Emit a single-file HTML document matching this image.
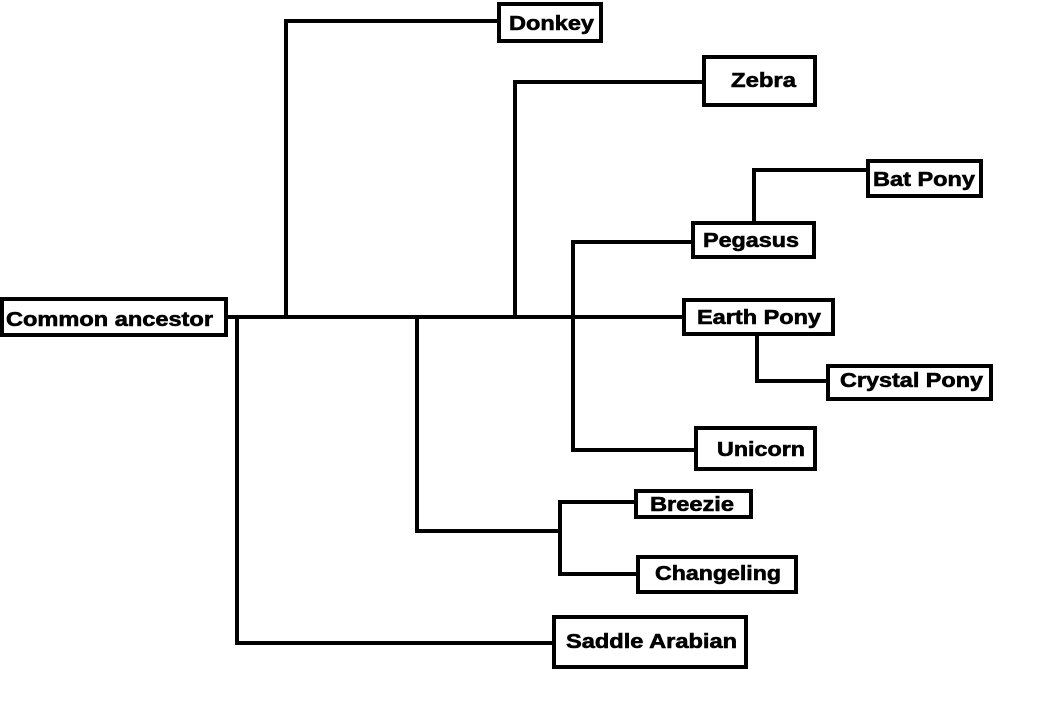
<!DOCTYPE html>
<html><head><meta charset="utf-8"><style>
html,body{margin:0;padding:0;background:#fff;}
svg{display:block;}
text{font-family:"Liberation Sans",Arial,sans-serif;font-weight:bold;font-size:20px;fill:#000;stroke:#000;stroke-width:0.6;}
</style></head><body>
<svg width="1045" height="720" viewBox="0 0 1045 720" xmlns="http://www.w3.org/2000/svg">
<g stroke="#000" stroke-width="4" fill="none" stroke-linecap="square">
<line x1="228" y1="317" x2="684" y2="317"/>
<polyline points="286,317 286,21 499,21"/>
<polyline points="515,317 515,82 704,82"/>
<polyline points="693,242 573,242 573,450 696,450"/>
<polyline points="754,221 754,170 868,170"/>
<polyline points="757,336 757,381 828,381"/>
<polyline points="417,317 417,531 560,531"/>
<polyline points="636,502 560,502 560,574 638,574"/>
<polyline points="237,317 237,643 554,643"/>
<rect x="2" y="299" width="224" height="36" fill="#fff"/>
<rect x="499" y="4" width="102" height="37" fill="#fff"/>
<rect x="704" y="57" width="111" height="48" fill="#fff"/>
<rect x="868" y="161" width="113" height="35" fill="#fff"/>
<rect x="693" y="223" width="121" height="34" fill="#fff"/>
<rect x="684" y="300" width="149" height="34" fill="#fff"/>
<rect x="828" y="366" width="163" height="33" fill="#fff"/>
<rect x="696" y="428" width="119" height="41" fill="#fff"/>
<rect x="636" y="491" width="115" height="26" fill="#fff"/>
<rect x="638" y="557" width="158" height="35" fill="#fff"/>
<rect x="554" y="617" width="192" height="50" fill="#fff"/>
</g>
<text x="6" y="326" textLength="207" lengthAdjust="spacingAndGlyphs">Common ancestor</text>
<text x="509" y="30" textLength="85" lengthAdjust="spacingAndGlyphs">Donkey</text>
<text x="731" y="87" textLength="65" lengthAdjust="spacingAndGlyphs">Zebra</text>
<text x="873" y="186" textLength="102" lengthAdjust="spacingAndGlyphs">Bat Pony</text>
<text x="703" y="247" textLength="96" lengthAdjust="spacingAndGlyphs">Pegasus</text>
<text x="697" y="324" textLength="124" lengthAdjust="spacingAndGlyphs">Earth Pony</text>
<text x="840" y="387" textLength="143" lengthAdjust="spacingAndGlyphs">Crystal Pony</text>
<text x="717" y="456" textLength="88" lengthAdjust="spacingAndGlyphs">Unicorn</text>
<text x="650" y="511" textLength="84" lengthAdjust="spacingAndGlyphs">Breezie</text>
<text x="655" y="580" textLength="126" lengthAdjust="spacingAndGlyphs">Changeling</text>
<text x="566" y="648" textLength="171" lengthAdjust="spacingAndGlyphs">Saddle Arabian</text>
</svg>
</body></html>
